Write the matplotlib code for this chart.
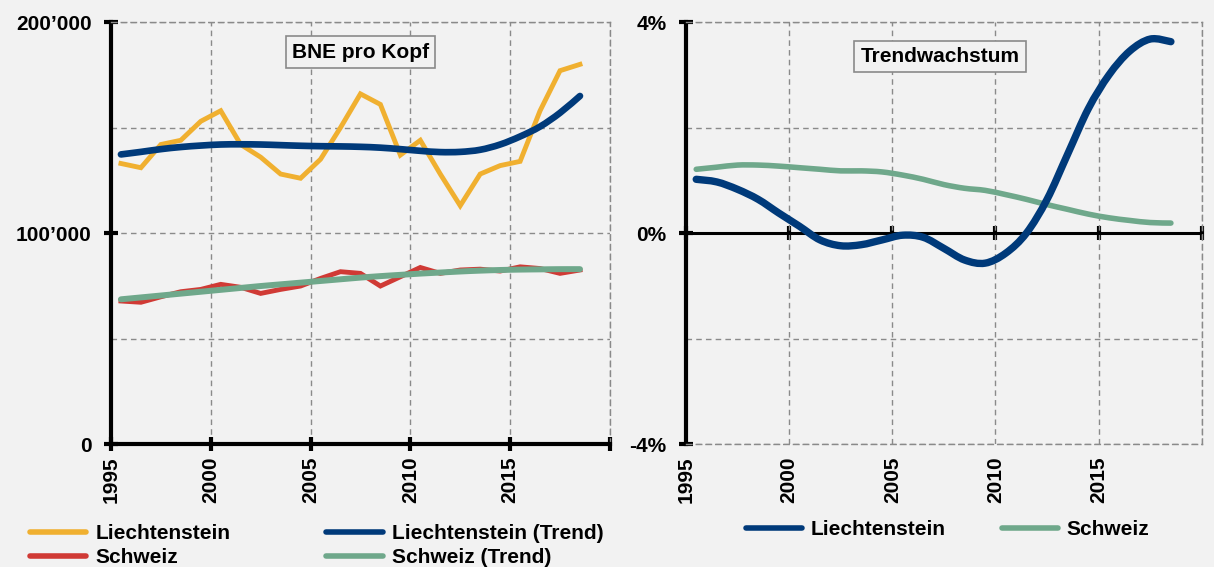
"""BNE pro Kopf und Trendwachstum: Liechtenstein vs. Schweiz."""

import matplotlib
matplotlib.use("Agg")
import matplotlib.pyplot as plt
import numpy as np
from matplotlib.lines import Line2D
from matplotlib.patches import PathPatch
from matplotlib.path import Path

plt.rcParams["font.family"] = ["Liberation Sans", "DejaVu Sans"]
plt.rcParams["font.weight"] = "bold"

years = np.arange(1995, 2019)

# BNE pro Kopf (CHF)
li_bne = [133, 131, 142, 144, 153, 158, 142, 136, 128, 126, 135, 150,
          166, 161, 137, 144, 128, 113, 128, 132, 134, 158, 177, 180]
li_trend = [137.3, 138.5, 139.8, 140.8, 141.5, 142.0, 142.1, 142.0, 141.7, 141.4, 141.2, 141.1,
            140.9, 140.5, 139.8, 139.0, 138.4, 138.5, 139.5, 142.0, 145.8, 150.5, 157.0, 165.0]
ch_bne = [67.8, 67.2, 69.8, 72.2, 73.3, 75.7, 74.3, 71.4, 73.3, 74.9, 78.5, 81.7,
          80.9, 74.9, 79.3, 83.7, 80.9, 82.5, 82.9, 82.0, 84.0, 83.2, 80.9, 82.5]
ch_trend = [68.6, 69.5, 70.4, 71.3, 72.2, 73.1, 74.0, 74.9, 75.7, 76.5, 77.3, 78.1,
            78.9, 79.6, 80.2, 80.8, 81.3, 81.8, 82.2, 82.5, 82.7, 82.8, 82.9, 82.9]

# Trendwachstum (%)
li_growth = [1.02, 0.97, 0.83, 0.64, 0.38, 0.13, -0.13, -0.24, -0.22, -0.13, -0.04, -0.08,
             -0.29, -0.51, -0.57, -0.38, 0.0, 0.64, 1.5, 2.36, 3.0, 3.45, 3.68, 3.63]
ch_growth = [1.21, 1.25, 1.29, 1.29, 1.27, 1.24, 1.21, 1.18, 1.18, 1.16, 1.10, 1.02,
             0.92, 0.85, 0.81, 0.73, 0.64, 0.54, 0.45, 0.36, 0.29, 0.24, 0.20, 0.19]

YELLOW = "#F0B030"
RED = "#D03A35"
NAVY = "#003A7A"
GREEN = "#6FA88B"
BG = "#F2F2F2"
GRID = "#8A8A8A"
FS = 15
DASH = (0, (4, 3))

xpos = years + 0.5  # Excel-style: points sit between category ticks


def smooth_path(x, y):
    """Excel-like smoothed line as cubic Bezier path (Catmull-Rom)."""
    p = np.column_stack([x, y]).astype(float)
    ext = np.vstack([p[0], p, p[-1]])
    verts = [p[0]]
    codes = [Path.MOVETO]
    for i in range(1, len(ext) - 2):
        c1 = ext[i] + (ext[i + 1] - ext[i - 1]) / 6
        c2 = ext[i + 1] - (ext[i + 2] - ext[i]) / 6
        verts += [c1, c2, ext[i + 1]]
        codes += [Path.CURVE4] * 3
    return Path(verts, codes)


def add_smooth(ax, x, y, color, lw):
    patch = PathPatch(smooth_path(x, y), fill=False, edgecolor=color, lw=lw,
                      capstyle="round", joinstyle="round", zorder=4)
    ax.add_patch(patch)


def style_grid(ax):
    ax.set_facecolor(BG)
    ax.grid(True, which="both", color=GRID, linestyle=DASH, lw=1)
    ax.set_axisbelow(True)
    for s in ("top", "right"):
        ax.spines[s].set_color(GRID)
        ax.spines[s].set_linestyle(DASH)
        ax.spines[s].set_linewidth(1)
    ax.spines["left"].set_linewidth(3)
    ax.spines["left"].set_color("black")
    ax.tick_params(axis="y", which="major", direction="inout", length=10, width=3,
                   labelsize=FS, pad=9)
    ax.tick_params(axis="y", which="minor", length=0)
    ax.tick_params(axis="x", labelsize=FS, labelrotation=90)
    ax.set_xlim(1995, 2020)
    ax.set_xticks(np.arange(1995, 2021, 5))
    ax.set_xticklabels([str(y) for y in range(1995, 2020, 5)] + [""])


fig = plt.figure(figsize=(12.14, 5.67), dpi=100)
fig.patch.set_facecolor(BG)

# --- left panel -------------------------------------------------------
ax1 = fig.add_axes([0.0914, 0.2169, 0.411, 0.744])
style_grid(ax1)
ax1.set_ylim(0, 200)
ax1.set_yticks([0, 100, 200])
ax1.set_yticks([50, 150], minor=True)
ax1.set_yticklabels(["0", "100’000", "200’000"])
ax1.spines["bottom"].set_linewidth(3)
ax1.tick_params(axis="x", direction="inout", length=10, width=3, pad=4)

ax1.plot(xpos, li_bne, color=YELLOW, lw=3.5, solid_joinstyle="miter", zorder=3)
ax1.plot(xpos, ch_bne, color=RED, lw=3.5, solid_joinstyle="miter", zorder=3)
add_smooth(ax1, xpos, li_trend, NAVY, 4.8)
add_smooth(ax1, xpos, ch_trend, GREEN, 4.3)

ax1.text(0.5, 0.929, "BNE pro Kopf", transform=ax1.transAxes, ha="center", va="center",
         fontsize=FS, fontweight="bold",
         bbox=dict(boxstyle="square,pad=0.3", fc=BG, ec=GRID, lw=1.2))

# --- right panel ------------------------------------------------------
ax2 = fig.add_axes([0.565, 0.2169, 0.425, 0.744])
style_grid(ax2)
ax2.set_ylim(-4, 4)
ax2.set_yticks([-4, 0, 4])
ax2.set_yticks([-2, 2], minor=True)
ax2.set_yticklabels(["-4%", "0%", "4%"])
ax2.spines["bottom"].set_color(GRID)
ax2.spines["bottom"].set_linestyle(DASH)
ax2.spines["bottom"].set_linewidth(1)
ax2.tick_params(axis="x", length=0, pad=9)

# zero line with its own tick marks (secondary axis at mid-height = 0%)
ax2.axhline(0, color="black", lw=2.2, zorder=2.5)
zero = ax2.secondary_xaxis(0.5)
zero.set_xticks(np.arange(1995, 2021, 5))
zero.set_xticklabels([])
for s in zero.spines.values():
    s.set_visible(False)
zero.tick_params(direction="inout", length=10, width=3,
                 labeltop=False, labelbottom=False)

add_smooth(ax2, xpos, ch_growth, GREEN, 4)
add_smooth(ax2, xpos, li_growth, NAVY, 5.3)

ax2.text(0.492, 0.919, "Trendwachstum", transform=ax2.transAxes, ha="center", va="center",
         fontsize=FS, fontweight="bold",
         bbox=dict(boxstyle="square,pad=0.3", fc=BG, ec=GRID, lw=1.2))

# --- legends ----------------------------------------------------------
def handle(color):
    return Line2D([], [], color=color, lw=4, solid_capstyle="round")


fig.legend([handle(YELLOW), handle(RED), handle(NAVY), handle(GREEN)],
           ["Liechtenstein", "Schweiz", "Liechtenstein (Trend)", "Schweiz (Trend)"],
           ncol=2, loc="center left", bbox_to_anchor=(0.0247, 0.0375),
           frameon=False, fontsize=FS, handlelength=2.7, handletextpad=0.45,
           columnspacing=4.6, labelspacing=0.25, borderpad=0, borderaxespad=0)

fig.legend([handle(NAVY), handle(GREEN)], ["Liechtenstein", "Schweiz"],
           ncol=2, loc="center", bbox_to_anchor=(0.7805, 0.0653),
           frameon=False, fontsize=FS, handlelength=2.7, handletextpad=0.4,
           columnspacing=2.7, borderpad=0, borderaxespad=0)

fig.savefig("out.png", dpi=100, facecolor=BG)
